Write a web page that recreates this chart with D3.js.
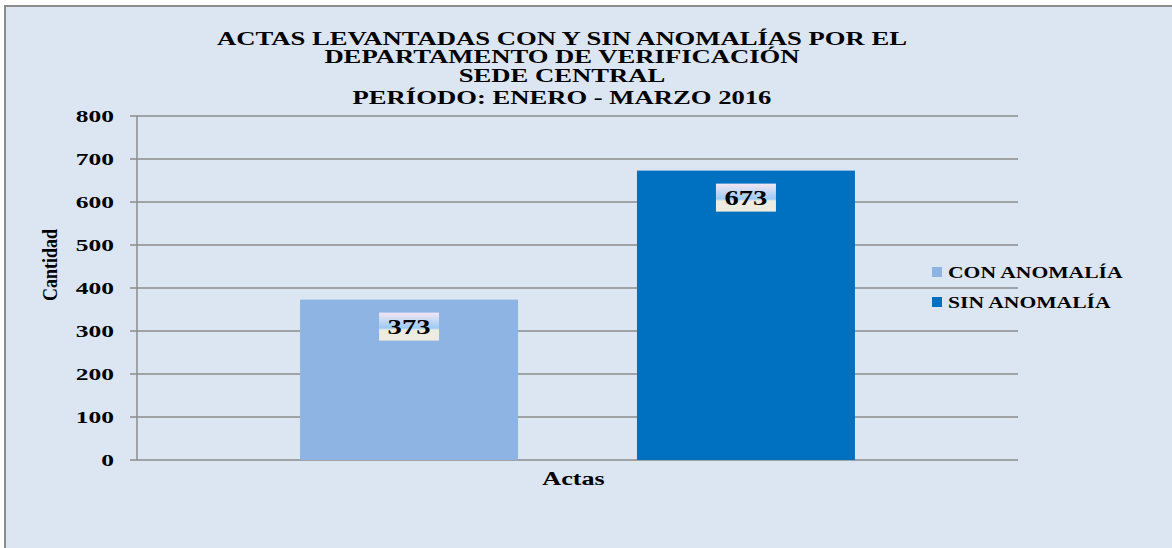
<!DOCTYPE html>
<html>
<head>
<meta charset="utf-8">
<script src="https://cdn.jsdelivr.net/npm/d3@7"></script>
<style>
  body { margin: 0; background: #fff; }
  svg { display: block; font-family: "Liberation Serif", "Times New Roman", serif; }
</style>
</head>
<body>
<div id="chart"></div>
<script>
// data
const categories = ["Actas"]
const seriesNames = ["CON ANOMALÍA", "SIN ANOMALÍA"]
const seriesValues = [373, 673]
const seriesColors = ["#8eb4e3", "#0070c0"]
const yTicks = [0, 100, 200, 300, 400, 500, 600, 700, 800]
const titleLines = [
    "ACTAS LEVANTADAS CON Y SIN ANOMALÍAS POR EL",
    "DEPARTAMENTO DE VERIFICACIÓN",
    "SEDE CENTRAL",
    "PERÍODO: ENERO - MARZO 2016"
]

const W = 1172, H = 548
const margin = { top: 116, right: 154, bottom: 88, left: 137 }
const width = W - margin.left - margin.right
const height = H - margin.top - margin.bottom

// the original image is stretched sideways, so widen the text to match
function stretch(sel, k) {
    sel.each(function () {
        const len = this.getComputedTextLength()
        d3.select(this)
            .attr("textLength", len * k)
            .attr("lengthAdjust", "spacingAndGlyphs")
    })
}

const svg = d3.select("#chart").append("svg")
    .attr("width", W)
    .attr("height", H)

// gradient used behind the value labels
const defs = svg.append("defs")
const grad = defs.append("linearGradient")
    .attr("id", "lblGrad")
    .attr("x1", 0).attr("y1", 0).attr("x2", 0).attr("y2", 1)
grad.append("stop").attr("offset", "0%").attr("stop-color", "#f3e6f2")
grad.append("stop").attr("offset", "55%").attr("stop-color", "#9ccbf5")
grad.append("stop").attr("offset", "62%").attr("stop-color", "#eeece1")
grad.append("stop").attr("offset", "100%").attr("stop-color", "#eeece1")

// chart area background + frame
svg.append("rect")
    .attr("x", 5).attr("y", 6)
    .attr("width", W + 10).attr("height", H + 10)
    .attr("fill", "#dce6f2")
    .attr("stroke", "#8c8c8c")
    .attr("stroke-width", 2)

svg.append("g")
    .selectAll("text")
    .data(titleLines)
    .join("text")
    .attr("x", 562)
    .attr("y", (d, i) => [45, 63, 82, 104][i])
    .attr("text-anchor", "middle")
    .attr("font-weight", "bold")
    .attr("font-size", 18)
    .text(d => d)
    .call(stretch, 1.48)

const g = svg.append("g")
    .attr("transform", `translate(${margin.left},${margin.top})`)

const x0 = d3.scaleBand()
    .domain(categories)
    .range([0, width])
    .paddingInner(0)
    .paddingOuter(0)

const x1 = d3.scaleBand()
    .domain(seriesNames)
    .range([0, x0.bandwidth()])
    .paddingInner(0.353)
    .paddingOuter(0.484)

const y = d3.scaleLinear()
    .domain([0, 800])
    .range([height, 0])

// gridlines
g.append("g")
    .selectAll("line")
    .data(yTicks)
    .join("line")
    .attr("x1", -7)
    .attr("x2", width)
    .attr("y1", d => y(d))
    .attr("y2", d => y(d))
    .attr("stroke", "#8c8c8c")
    .attr("stroke-width", 1.5)

// y axis line
g.append("line")
    .attr("x1", 0).attr("x2", 0)
    .attr("y1", 0).attr("y2", height)
    .attr("stroke", "#8c8c8c")
    .attr("stroke-width", 1.5)

// y tick labels
g.append("g")
    .selectAll("text")
    .data(yTicks)
    .join("text")
    .attr("x", -23)
    .attr("y", d => y(d))
    .attr("dy", "0.35em")
    .attr("text-anchor", "end")
    .attr("font-weight", "bold")
    .attr("font-size", 17)
    .text(d => d)
    .call(stretch, 1.5)

// bars
const barData = seriesNames.map((s, i) => ({ cat: categories[0], name: s, value: seriesValues[i], color: seriesColors[i] }))

g.selectAll("rect.bar")
    .data(barData)
    .join("rect")
    .attr("class", "bar")
    .attr("x", d => x0(d.cat) + x1(d.name))
    .attr("y", d => y(d.value))
    .attr("width", x1.bandwidth())
    .attr("height", d => height - y(d.value))
    .attr("fill", d => d.color)

// value labels
const lbl = g.selectAll("g.lbl")
    .data(barData)
    .join("g")
    .attr("class", "lbl")
    .attr("transform", d => `translate(${x0(d.cat) + x1(d.name) + x1.bandwidth() / 2},${y(d.value) + 27})`)

lbl.append("rect")
    .attr("x", -30).attr("y", -14)
    .attr("width", 60).attr("height", 28)
    .attr("fill", "url(#lblGrad)")

lbl.append("text")
    .attr("text-anchor", "middle")
    .attr("dy", "0.35em")
    .attr("font-weight", "bold")
    .attr("font-size", 22)
    .text(d => d.value)
    .call(stretch, 1.3)

// category label
g.append("text")
    .attr("x", x0(categories[0]) + x0.bandwidth() / 2 - 4)
    .attr("y", height + 25)
    .attr("text-anchor", "middle")
    .attr("font-weight", "bold")
    .attr("font-size", 18)
    .text(categories[0])
    .call(stretch, 1.45)

// y axis title (narrow and tall in the original)
svg.append("text")
    .attr("transform", "translate(57,265) rotate(-90)")
    .attr("text-anchor", "middle")
    .attr("font-weight", "bold")
    .attr("font-size", 22)
    .attr("textLength", 72)
    .attr("lengthAdjust", "spacingAndGlyphs")
    .text("Cantidad")

// legend
const leg = svg.append("g")
    .selectAll("g")
    .data(barData)
    .join("g")
    .attr("transform", (d, i) => `translate(932,${272 + i * 30})`)

leg.append("rect")
    .attr("x", 0).attr("y", -5)
    .attr("width", 10).attr("height", 10)
    .attr("fill", d => d.color)

leg.append("text")
    .attr("x", 16)
    .attr("dy", "0.35em")
    .attr("font-weight", "bold")
    .attr("font-size", 16)
    .text(d => d.name)
    .call(stretch, 1.35)
</script>
</body>
</html>
